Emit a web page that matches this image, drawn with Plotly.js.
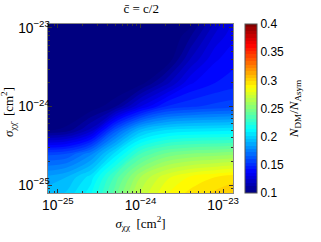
<!DOCTYPE html>
<html>
<head>
<meta charset="utf-8">
<script src="https://cdn.plot.ly/plotly-3.0.1.min.js"></script>
<style>
  body{margin:0;background:#fff;}
  #chart{width:321px;height:242px;}
</style>
</head>
<body>
<div id="chart"></div>
<script>

/* ==========================================
   DATA  (log10 of cross sections, ratio)
========================================== */

const sigmaXXLog = [-25.2, -24.9, -24.6, -24.3, -24.0, -23.7, -23.4, -23.1, -22.8];

const sigmaXXbarLog = [-25.2, -24.9, -24.6, -24.3, -24.0, -23.7, -23.4, -23.1, -22.8];

// rows follow sigmaXXbarLog, columns follow sigmaXXLog
const ratioRows = [
    [0.195, 0.200, 0.215, 0.245, 0.272, 0.288, 0.297, 0.303, 0.310],
    [0.185, 0.190, 0.205, 0.235, 0.262, 0.278, 0.287, 0.292, 0.296],
    [0.158, 0.160, 0.176, 0.205, 0.232, 0.245, 0.250, 0.252, 0.255],
    [0.098, 0.102, 0.120, 0.163, 0.192, 0.202, 0.205, 0.206, 0.207],
    [0.090, 0.090, 0.095, 0.106, 0.130, 0.148, 0.153, 0.156, 0.158],
    [0.090, 0.090, 0.090, 0.090, 0.097, 0.115, 0.135, 0.142, 0.146],
    [0.090, 0.090, 0.090, 0.090, 0.090, 0.093, 0.118, 0.135, 0.141],
    [0.090, 0.090, 0.090, 0.090, 0.090, 0.090, 0.105, 0.125, 0.137],
    [0.090, 0.090, 0.090, 0.090, 0.090, 0.090, 0.090, 0.113, 0.132]
];

const cbTicks = [0.1, 0.15, 0.2, 0.25, 0.3, 0.35, 0.4];

const jet = [
    [0.000, "rgb(0,0,128)"],
    [0.125, "rgb(0,0,255)"],
    [0.375, "rgb(0,255,255)"],
    [0.625, "rgb(255,255,0)"],
    [0.875, "rgb(255,0,0)"],
    [1.000, "rgb(128,0,0)"]
];


/* ==========================================
   DRAW
========================================== */

function drawRatioMap(){

    const axisFont = {family:"Liberation Sans, Arial, sans-serif", size:11, color:"#000"};

    const serif = {family:"Liberation Serif, DejaVu Serif, serif", size:13, color:"#000"};

    const baseAxis = {

        type:"log",

        dtick:1,

        exponentformat:"power",

        ticks:"inside",

        ticklen:4,

        tickcolor:"#333",

        minor:{ticks:"inside", ticklen:2, tickcolor:"#333", showgrid:false},

        showline:true,

        linecolor:"#888",

        linewidth:1,

        mirror:"ticks",

        showgrid:false,

        zeroline:false,

        automargin:false,

        tickfont:axisFont

    };

    Plotly.newPlot(

        "chart",

        [

            {

                type:"contour",

                x:sigmaXXLog.map(v=>Math.pow(10,v)),

                y:sigmaXXbarLog.map(v=>Math.pow(10,v)),

                z:ratioRows,

                colorscale:jet,

                zmin:0.1,

                zmax:0.4,

                autocontour:false,

                contours:{start:0.1, end:0.4, size:0.006, coloring:"fill", showlines:false},

                line:{width:0},

                colorbar:{

                    x:1.065,

                    xanchor:"left",

                    xpad:0,

                    y:0.5,

                    len:1,

                    lenmode:"fraction",

                    ypad:0,

                    thickness:12,

                    outlinecolor:"#555",

                    outlinewidth:1,

                    tickvals:cbTicks,

                    ticktext:cbTicks.map(String),

                    ticks:"",

                    tickfont:{family:"Liberation Sans, Arial, sans-serif", size:12, color:"#000"},

                    title:{

                        text:"<i>N</i><sub>DM</sub>/<i>N</i><sub>Asym</sub>",

                        side:"right",

                        font:{family:"Liberation Serif, DejaVu Serif, serif", size:13, color:"#000"}

                    }

                },

                hoverinfo:"skip"

            }

        ],

        {

            width:321,

            height:242,

            paper_bgcolor:"#fff",

            plot_bgcolor:"#fff",

            margin:{l:48, r:88, t:24, b:49},

            title:{

                text:"c\u0304 = c/2",

                font:serif,

                x:0.44,

                xanchor:"center",

                y:0.985,

                yanchor:"top"

            },

            xaxis:Object.assign({}, baseAxis, {

                range:[-25.12, -22.88],

                title:{text:"<i>σ</i><sub>χχ</sub>  [cm<sup>2</sup>]", font:serif, standoff:6}

            }),

            yaxis:Object.assign({}, baseAxis, {

                range:[-25.1, -22.95],

                ticklabelstandoff:-5

            }),

            annotations:[

                {

                    text:"<i>σ</i><sub>χχ\u0304</sub>  [cm<sup>2</sup>]",

                    xref:"paper",

                    yref:"paper",

                    x:-0.215,

                    y:0.48,

                    xanchor:"center",

                    yanchor:"middle",

                    textangle:-90,

                    showarrow:false,

                    font:serif

                }

            ]

        },

        {

            staticPlot:true

        }

    );

}

drawRatioMap();

</script>
</body>
</html>
